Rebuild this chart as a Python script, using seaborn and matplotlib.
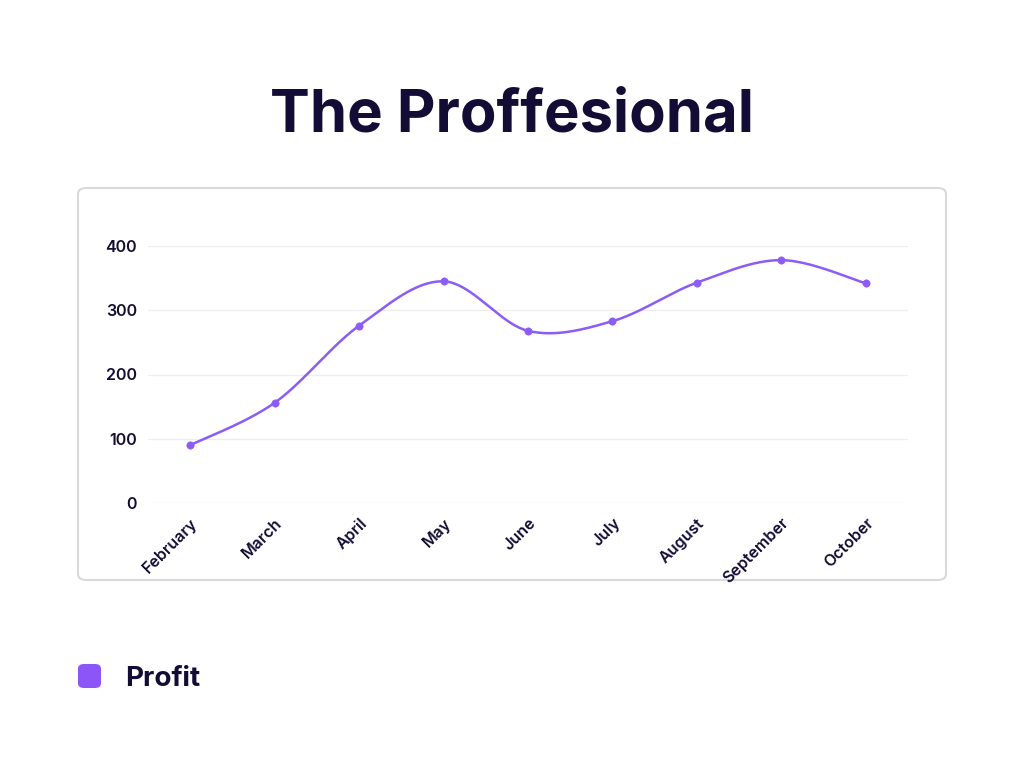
import numpy as np
import pandas as pd
import matplotlib
matplotlib.use("Agg")
import matplotlib.pyplot as plt
import seaborn as sns
from matplotlib.patches import FancyBboxPatch
import matplotlib.transforms as mtransforms

months = ["February", "March", "April", "May", "June", "July", "August", "September", "October"]
profit = [90, 156, 276, 345, 268, 283, 343, 378, 342]
y_ticks = [0, 100, 200, 300, 400]

title = "The Proffesional"
series_name = "Profit"

LINE = "#8B5CF6"
TEXT = "#130C35"

sns.set_theme(style="white")
plt.rcParams['font.family'] = ['Inter', 'DejaVu Sans']

fig = plt.figure(figsize=(10.24, 7.68), dpi=100)
fig.patch.set_facecolor("white")

# panel box
panel = FancyBboxPatch((78/1024, 1-580/768), (946-78)/1024, (580-188)/768,
                       boxstyle="round,pad=0,rounding_size=0.008",
                       transform=fig.transFigure, facecolor="none",
                       edgecolor="#DADADA", linewidth=1.5, zorder=-1)
fig.patches.append(panel)

ax = fig.add_axes([148/1024, 1-503/768, (908-148)/1024, (503-246)/768])
ax.set_facecolor("none")

x = np.arange(len(months))
y = np.array(profit, dtype=float)

# Catmull-Rom style smoothing for rendering the curve
def smooth(xs, ys, n=40, tension=0.5):
    px, py = [], []
    m = len(xs)
    for i in range(m - 1):
        p0 = (xs[max(i-1, 0)], ys[max(i-1, 0)])
        p1 = (xs[i], ys[i])
        p2 = (xs[i+1], ys[i+1])
        p3 = (xs[min(i+2, m-1)], ys[min(i+2, m-1)])
        t = np.linspace(0, 1, n, endpoint=(i == m - 2))
        m1x = tension * (p2[0] - p0[0]); m1y = tension * (p2[1] - p0[1])
        m2x = tension * (p3[0] - p1[0]); m2y = tension * (p3[1] - p1[1])
        h00 = 2*t**3 - 3*t**2 + 1
        h10 = t**3 - 2*t**2 + t
        h01 = -2*t**3 + 3*t**2
        h11 = t**3 - t**2
        px.append(h00*p1[0] + h10*m1x + h01*p2[0] + h11*m2x)
        py.append(h00*p1[1] + h10*m1y + h01*p2[1] + h11*m2y)
    return np.concatenate(px), np.concatenate(py)

sx, sy = smooth(x, y)
sns.lineplot(x=sx, y=sy, ax=ax, color=LINE, linewidth=1.8, sort=False, estimator=None)
sns.scatterplot(x=x, y=y, ax=ax, color=LINE, s=28, edgecolor=LINE, zorder=3)

ax.set_xlim(-0.5, len(months) - 0.5)
ax.set_ylim(0, 400)
ax.set_yticks(y_ticks)
ax.set_yticklabels([str(v) for v in y_ticks], fontsize=11.5, fontweight="semibold", color=TEXT)
ax.set_xticks(x)
ax.set_xticklabels(months, rotation=45, ha="right", rotation_mode="anchor",
                   fontsize=11.5, fontweight="semibold", color=TEXT)
offset = mtransforms.ScaledTranslation(9/100, 0, fig.dpi_scale_trans)
for lab in ax.get_xticklabels():
    lab.set_transform(lab.get_transform() + offset)

ax.grid(axis="y", color="#EEEEEE", linewidth=0.9)
ax.grid(axis="x", visible=False)
for s in ax.spines.values():
    s.set_visible(False)
ax.tick_params(axis="both", length=0)
ax.tick_params(axis="y", pad=8)
ax.tick_params(axis="x", pad=9)
ax.set_xlabel("")
ax.set_ylabel("")

fig.text(0.5, 1-116/768, title, ha="center", va="center", fontsize=43,
         fontweight="bold", color=TEXT)

# legend
leg_box = FancyBboxPatch((78/1024, 1-688/768), 23/1024, 24/768,
                         boxstyle="round,pad=0,rounding_size=0.006",
                         transform=fig.transFigure, facecolor="#8B55F7",
                         edgecolor="none")
fig.patches.append(leg_box)
fig.text(125/1024, 1-679/768, series_name, ha="left", va="center", fontsize=20,
         fontweight="bold", color=TEXT)

fig.savefig("out.png", dpi=100, facecolor="white")
